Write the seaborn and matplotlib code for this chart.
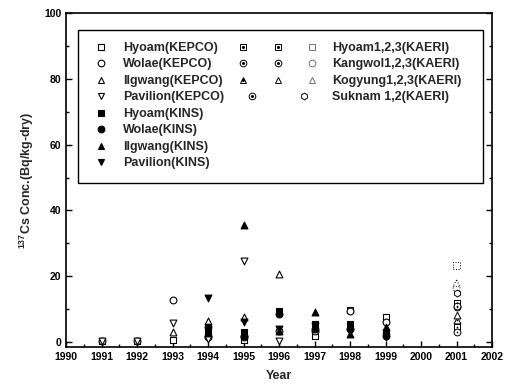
import numpy as np
import pandas as pd
import matplotlib
matplotlib.use("Agg")
import matplotlib.pyplot as plt
import seaborn as sns
from matplotlib.lines import Line2D
from matplotlib.patches import Rectangle
from matplotlib.legend_handler import HandlerTuple
from matplotlib.ticker import MultipleLocator

nan = np.nan
years = [1991, 1992, 1993, 1994, 1995, 1996, 1997, 1998, 1999]

# KEPCO (open) and KINS (filled) series
hyoam_kepco = [0.3, 0.3, 0.6, 2.0, 0.6, nan, 1.8, 9.8, 7.5]
wolae_kepco = [0.3, 0.3, 12.7, 1.5, 1.5, 3.5, 3.5, 9.6, 6.0]
ilgwang_kepco = [nan, nan, 3.0, 6.3, 7.7, 20.6, nan, nan, nan]
pavilion_kepco = [0.3, 0.3, 5.8, 1.0, 24.6, 0.4, nan, nan, nan]
hyoam_kins = [nan, nan, nan, 3.5, 3.0, 9.5, 5.5, 5.5, 3.0]
wolae_kins = [nan, nan, nan, 4.5, 2.0, 8.5, 4.0, 4.0, 2.0]
ilgwang_kins = [nan, nan, nan, 2.8, 35.5, 3.5, 9.2, 2.5, 4.5]
pavilion_kins = [nan, nan, nan, 13.3, 6.2, 4.0, 5.0, 3.0, 1.5]

# KAERI 2001 survey
kaeri_year = 2001
hyoam_kaeri = [4.6, 11.8, 23.3]
kangwol_kaeri = [3.0, 10.6, 16.4]
kogyung_kaeri = [6.7, 8.2, 17.9]
suknam_kaeri = [11.0, 14.8]

sns.set_style("ticks")
plt.rcParams["font.family"] = ["Liberation Sans", "DejaVu Sans"]
plt.rcParams["font.weight"] = "bold"
plt.rcParams["mathtext.fontset"] = "custom"
plt.rcParams["mathtext.rm"] = "Liberation Sans:bold"
plt.rcParams["mathtext.default"] = "rm"

fig = plt.figure(figsize=(5.12, 3.9), dpi=100)
ax = fig.add_axes([0.129, 0.110, 0.832, 0.857])

ms = 24
main = [
    ("Hyoam(KEPCO)", hyoam_kepco, "s", "white"),
    ("Wolae(KEPCO)", wolae_kepco, "o", "white"),
    ("Ilgwang(KEPCO)", ilgwang_kepco, "^", "white"),
    ("Pavilion(KEPCO)", pavilion_kepco, "v", "white"),
    ("Hyoam(KINS)", hyoam_kins, "s", "black"),
    ("Wolae(KINS)", wolae_kins, "o", "black"),
    ("Ilgwang(KINS)", ilgwang_kins, "^", "black"),
    ("Pavilion(KINS)", pavilion_kins, "v", "black"),
]
handles1 = []
for name, vals, mk, fc in main:
    df = pd.DataFrame({"year": years, "conc": vals}).dropna()
    sns.scatterplot(data=df, x="year", y="conc", ax=ax, marker=mk, s=ms,
                    facecolor=fc, edgecolor="black", linewidth=0.8, zorder=3)
    handles1.append(Line2D([], [], ls="none", marker=mk, ms=4.8,
                           mfc=fc, mec="black", mew=0.8, label=name))

# KAERI markers: (marker, dotted edge?, centre dot?) per site member
kaeri = [
    ("Hyoam1,2,3(KAERI)", hyoam_kaeri, [("s", False, True), ("s", False, True), ("s", True, False)]),
    ("Kangwol1,2,3(KAERI)", kangwol_kaeri, [("o", False, True), ("o", False, True), ("o", True, False)]),
    ("Kogyung1,2,3(KAERI)", kogyung_kaeri, [("^", False, True), ("^", False, False), ("^", True, False)]),
    ("Suknam 1,2(KAERI)", suknam_kaeri, [("o", False, True), ("h", False, False)]),
]
handles2 = []
for name, vals, styles in kaeri:
    group = []
    for v, (mk, dotted, dot) in zip(vals, styles):
        df = pd.DataFrame({"year": [kaeri_year], "conc": [v]})
        sns.scatterplot(data=df, x="year", y="conc", ax=ax, marker=mk, s=ms,
                        facecolor="white", edgecolor="black", linewidth=0.7,
                        linestyle=":" if dotted else "-", zorder=3)
        h = Line2D([], [], ls="none", marker=mk, ms=4.8, mfc="white",
                   mec="black", mew=0.7)
        if dotted:
            h.set_markeredgecolor("0.45")
        if dot:
            sns.scatterplot(data=df, x="year", y="conc", ax=ax, marker="o", s=1.5,
                            color="black", linewidth=0, zorder=4)
            h = (h, Line2D([], [], ls="none", marker="o", ms=1.2, mfc="black", mec="black"))
        group.append(h)
    handles2.append((tuple(group), name))

ax.set_xlim(1990, 2002)
ax.set_ylim(-1.5, 100)
ax.xaxis.set_major_locator(MultipleLocator(1))
ax.xaxis.set_minor_locator(MultipleLocator(0.5))
ax.yaxis.set_major_locator(MultipleLocator(20))
ax.yaxis.set_minor_locator(MultipleLocator(10))
ax.tick_params(which="both", direction="in", right=True, top=False, width=1, colors="black")
ax.tick_params(which="major", length=4, labelsize=7.5)
ax.tick_params(which="minor", length=2)
for sp in ax.spines.values():
    sp.set_linewidth(1.2)
    sp.set_color("black")
    sp.set_visible(True)

ax.set_xlabel("Year", fontsize=9, fontweight="bold", labelpad=6)
ax.set_ylabel("$^{137}$Cs Conc.(Bq/kg-dry)", fontsize=9, fontweight="bold", labelpad=6)

ax.add_patch(Rectangle((0.028, 0.491), 0.951, 0.458, transform=ax.transAxes,
                       fill=False, edgecolor="black", linewidth=1.0, zorder=5))

leg1 = ax.legend(handles=handles1, loc="upper left", bbox_to_anchor=(0.042, 0.943),
                 frameon=False, fontsize=9, handlelength=1.2, handletextpad=1.16,
                 labelspacing=0.36, borderpad=0.3)
ax.add_artist(leg1)
hmap = {g: HandlerTuple(ndivide=None, pad=1.96) for g, _ in handles2}
ax.legend(handles=[g for g, _ in handles2], labels=[n for _, n in handles2],
          handler_map=hmap, loc="upper left", bbox_to_anchor=(0.381, 0.943),
          frameon=False, fontsize=9, handlelength=6.3, handletextpad=1.2,
          labelspacing=0.36, borderpad=0.3)

fig.savefig("out.png", dpi=100)
